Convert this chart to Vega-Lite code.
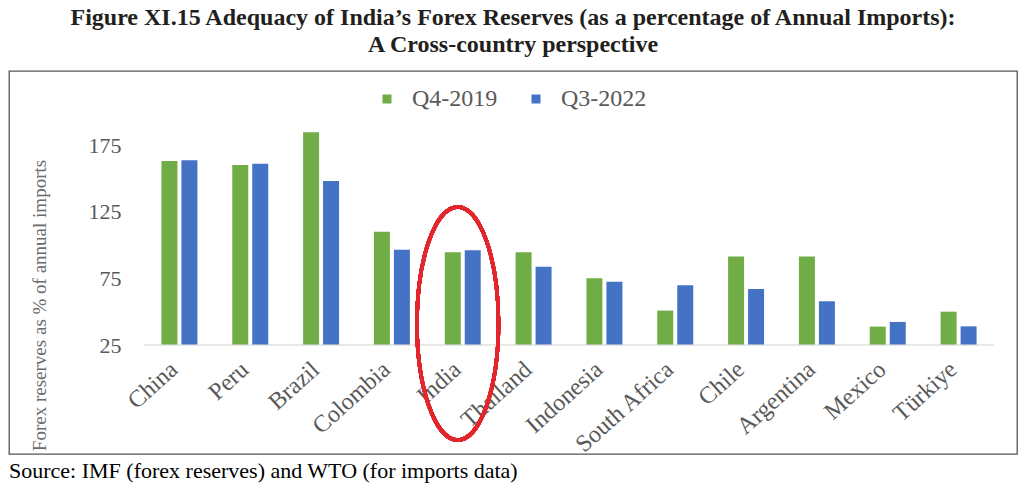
{
  "$schema": "https://vega.github.io/schema/vega-lite/v6.json",
  "background": "white",
  "padding": {"left": 8, "top": 6, "right": 8, "bottom": 0},
  "title": {
    "text": ["Figure XI.15 Adequacy of India’s Forex Reserves (as a percentage of Annual Imports):", "A Cross-country perspective"],
    "font": "Liberation Serif",
    "fontSize": 24,
    "fontWeight": "bold",
    "color": "#231f20",
    "anchor": "middle",
    "lineHeight": 27,
    "offset": 13
  },
  "config": {
    "view": {"stroke": "#555555", "strokeWidth": 1.3},
    "font": "Liberation Serif"
  },
  "vconcat": [
    {
      "width": 1008,
      "height": 383,
      "title": {
        "text": "Source: IMF (forex reserves) and WTO (for imports data)",
        "orient": "bottom",
        "anchor": "start",
        "font": "Liberation Serif",
        "fontSize": 22,
        "fontWeight": "normal",
        "color": "#000000",
        "offset": 4
      },
      "data": {
        "values": [
          {"country": "China", "series": "Q4-2019", "value": 163},
          {"country": "China", "series": "Q3-2022", "value": 163.5},
          {"country": "Peru", "series": "Q4-2019", "value": 160},
          {"country": "Peru", "series": "Q3-2022", "value": 161},
          {"country": "Brazil", "series": "Q4-2019", "value": 184.5},
          {"country": "Brazil", "series": "Q3-2022", "value": 148},
          {"country": "Colombia", "series": "Q4-2019", "value": 110},
          {"country": "Colombia", "series": "Q3-2022", "value": 96.5},
          {"country": "India", "series": "Q4-2019", "value": 94.5},
          {"country": "India", "series": "Q3-2022", "value": 96},
          {"country": "Thailand", "series": "Q4-2019", "value": 94.5},
          {"country": "Thailand", "series": "Q3-2022", "value": 83.7},
          {"country": "Indonesia", "series": "Q4-2019", "value": 75},
          {"country": "Indonesia", "series": "Q3-2022", "value": 72.5},
          {"country": "South Africa", "series": "Q4-2019", "value": 50.8},
          {"country": "South Africa", "series": "Q3-2022", "value": 69.8},
          {"country": "Chile", "series": "Q4-2019", "value": 91.3},
          {"country": "Chile", "series": "Q3-2022", "value": 67},
          {"country": "Argentina", "series": "Q4-2019", "value": 91.3},
          {"country": "Argentina", "series": "Q3-2022", "value": 57.8},
          {"country": "Mexico", "series": "Q4-2019", "value": 38.8},
          {"country": "Mexico", "series": "Q3-2022", "value": 42.3},
          {"country": "Türkiye", "series": "Q4-2019", "value": 50},
          {"country": "Türkiye", "series": "Q3-2022", "value": 39}
        ]
      },
      "encoding": {
        "x": {
          "field": "country",
          "type": "nominal",
          "sort": null,
          "scale": {"range": [135, 985], "paddingInner": 0.492, "paddingOuter": 0.246},
          "axis": {
            "title": null,
            "offset": -109,
            "domain": false,
            "ticks": false,
            "labelAngle": -42,
            "labelAlign": "right",
            "labelBaseline": "middle",
            "labelPadding": 21,
            "labelOffset": -5,
            "labelFont": "Liberation Serif",
            "labelFontSize": 24,
            "labelColor": "#595959"
          }
        }
      },
      "layer": [
        {
          "mark": {"type": "bar"},
          "encoding": {
            "xOffset": {
              "field": "series",
              "type": "nominal",
              "sort": ["Q4-2019", "Q3-2022"],
              "scale": {"paddingInner": 0.2, "paddingOuter": 0}
            },
            "y": {
              "field": "value",
              "type": "quantitative",
              "scale": {"domain": [-56.75, 230.5], "nice": false, "zero": false},
              "axis": {
                "title": "Forex reserves as % of annual imports",
                "values": [25, 75, 125, 175],
                "offset": -112,
                "domain": false,
                "ticks": false,
                "grid": false,
                "labelPadding": 0,
                "labelFont": "Liberation Serif",
                "labelFontSize": 22,
                "labelColor": "#595959",
                "titleFont": "Liberation Serif",
                "titleFontSize": 19,
                "titleFontWeight": "normal",
                "titleColor": "#6b6b6b",
                "titleAngle": -90,
                "titleAlign": "center",
                "titleBaseline": "middle",
                "titleX": -82,
                "titleY": 234
              }
            },
            "y2": {"datum": 25},
            "color": {
              "field": "series",
              "type": "nominal",
              "scale": {"domain": ["Q4-2019", "Q3-2022"], "range": ["#70AD47", "#4472C4"]},
              "legend": {
                "title": null,
                "orient": "none",
                "direction": "horizontal",
                "legendX": 366,
                "legendY": 16,
                "symbolType": "square",
                "symbolSize": 81,
                "symbolStrokeWidth": 0,
                "labelFont": "Liberation Serif",
                "labelFontSize": 24,
                "labelColor": "#595959",
                "labelOffset": 13,
                "columnPadding": 26
              }
            }
          }
        },
        {
          "mark": {"type": "tick", "size": 71, "thickness": 1.2, "color": "#d9d9d9"},
          "encoding": {
            "y": {"datum": 25, "type": "quantitative"}
          }
        },
        {
          "mark": {
            "type": "point",
            "shape": "M0,-1 A0.35,1 0 1,1 0,1 A0.35,1 0 1,1 0,-1 Z",
            "size": 54289,
            "filled": false,
            "stroke": "#e3262b",
            "strokeWidth": 3.5,
            "opacity": 1
          },
          "encoding": {
            "x": {"datum": "India", "bandPosition": 0.36},
            "y": {"datum": 41.1, "type": "quantitative"}
          }
        }
      ]
    }
  ]
}
